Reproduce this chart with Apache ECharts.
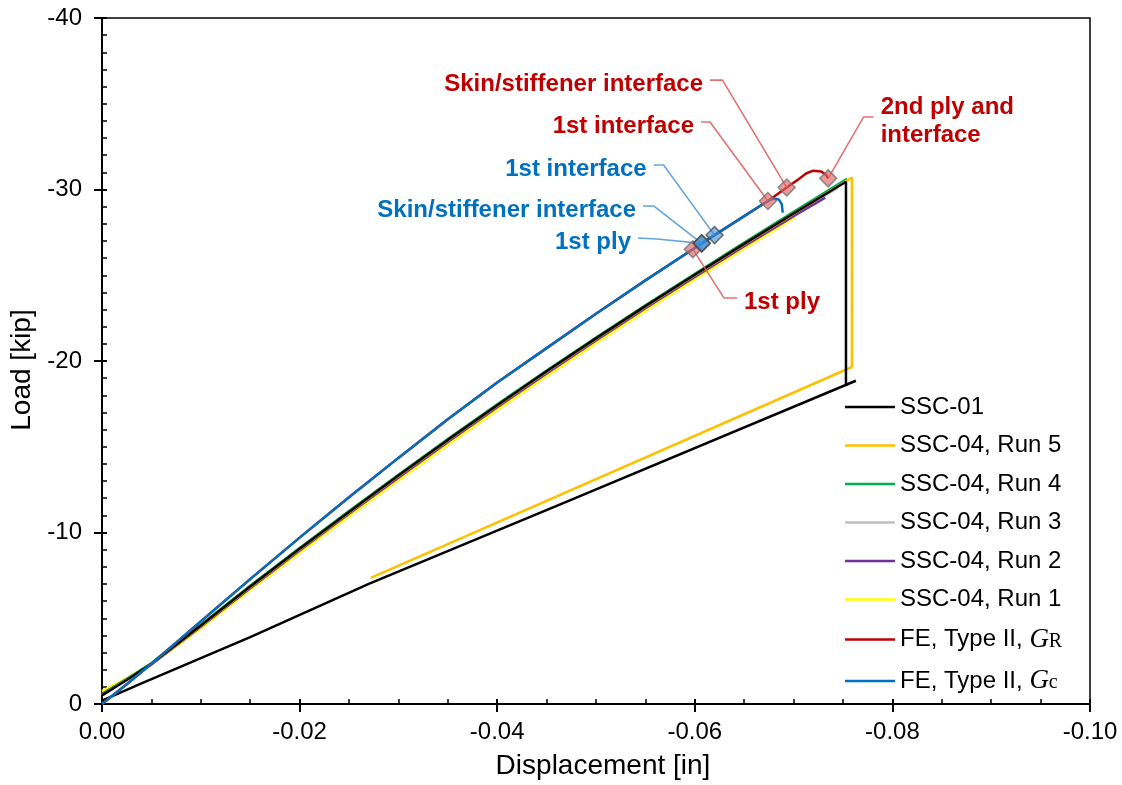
<!DOCTYPE html>
<html><head><meta charset="utf-8">
<script src="https://cdn.jsdelivr.net/npm/echarts@6.0.0/dist/echarts.min.js"></script>
<style>html,body{margin:0;padding:0;background:#fff}#c{width:1122px;height:785px}</style>
</head><body><div id="c"></div>
<script>
// ---------------- data ----------------
const xTicks = [0, -0.02, -0.04, -0.06, -0.08, -0.10];
const yTicks = [0, -10, -20, -30, -40];

const ssc01X = [0, -0.0025, -0.005, -0.0075, -0.01, -0.015, -0.02, -0.025, -0.03, -0.035, -0.04, -0.045, -0.05, -0.055, -0.06, -0.065, -0.07, -0.0753,
                -0.0753, -0.0763, -0.0462, -0.027, -0.015, -0.004, 0];
const ssc01Y = [-0.5, -1.4, -2.35, -3.45, -4.58, -6.85, -9.05, -11.2, -13.32, -15.4, -17.42, -19.4, -21.32, -23.2, -25.03, -26.83, -28.6, -30.45,
                -18.6, -18.85, -11.6, -7.0, -3.9, -1.2, -0.2];

const run5X = [0, -0.005, -0.01, -0.015, -0.02, -0.025, -0.03, -0.035, -0.04, -0.045, -0.05, -0.055, -0.06, -0.065, -0.07, -0.0759, -0.0759, -0.0272];
const run5Y = [-0.5, -2.32, -4.55, -6.82, -9.02, -11.17, -13.29, -15.37, -17.39, -19.37, -21.29, -23.17, -25.0, -26.8, -28.58, -30.7, -19.65, -7.35];

const run4X = [0, -0.005, -0.01, -0.015, -0.02, -0.025, -0.03, -0.035, -0.04, -0.045, -0.05, -0.055, -0.06, -0.065, -0.07, -0.0754];
const run4Y = [-0.55, -2.38, -4.62, -6.9, -9.1, -11.25, -13.37, -15.45, -17.47, -19.45, -21.37, -23.25, -25.08, -26.9, -28.7, -30.62];

const run3X = [0, -0.005, -0.01, -0.015, -0.02, -0.025, -0.03, -0.035, -0.04, -0.045, -0.05, -0.055, -0.06, -0.065, -0.07, -0.0745];
const run3Y = [-0.6, -2.3, -4.52, -6.8, -9.0, -11.15, -13.27, -15.35, -17.37, -19.35, -21.27, -23.15, -24.98, -26.78, -28.55, -30.1];

const run2X = [0, -0.005, -0.01, -0.015, -0.02, -0.025, -0.03, -0.035, -0.04, -0.045, -0.05, -0.055, -0.06, -0.065, -0.07, -0.0732];
const run2Y = [-0.6, -2.3, -4.5, -6.75, -8.95, -11.1, -13.2, -15.28, -17.3, -19.28, -21.2, -23.08, -24.9, -26.7, -28.45, -29.52];

const run1X = [0, -0.0025, -0.005, -0.0075, -0.01, -0.015, -0.02, -0.025, -0.03, -0.035, -0.04, -0.045, -0.05, -0.055, -0.06, -0.065, -0.0701];
const run1Y = [-0.75, -1.5, -2.35, -3.35, -4.42, -6.65, -8.82, -10.95, -13.05, -15.12, -17.15, -19.12, -21.05, -22.93, -24.77, -26.57, -28.37];

const feGrX = [0, -0.0025, -0.005, -0.0075, -0.01, -0.015, -0.02, -0.025, -0.03, -0.035, -0.04, -0.045, -0.05, -0.055, -0.0598, -0.0607, -0.062, -0.065, -0.0674,
               -0.0693, -0.0705, -0.0713, -0.072, -0.0728, -0.0733, -0.0735];
const feGrY = [0, -1.15, -2.35, -3.58, -4.82, -7.28, -9.7, -12.05, -14.35, -16.6, -18.75, -20.75, -22.75, -24.7, -26.52, -26.86, -27.34, -28.45, -29.33,
               -30.12, -30.6, -30.95, -31.1, -31.05, -30.85, -30.65];

const feGcX = [0, -0.0025, -0.005, -0.0075, -0.01, -0.015, -0.02, -0.025, -0.03, -0.035, -0.04, -0.045, -0.05, -0.055, -0.0598, -0.0607, -0.062, -0.065, -0.0674,
               -0.068, -0.0685, -0.0688, -0.0689];
const feGcY = [0, -1.15, -2.35, -3.58, -4.82, -7.28, -9.7, -12.05, -14.35, -16.6, -18.75, -20.75, -22.75, -24.7, -26.52, -26.86, -27.34, -28.45, -29.33,
               -29.48, -29.42, -29.15, -28.65];

const redEventX = [-0.0598, -0.0674, -0.0693, -0.0735];
const redEventY = [-26.52, -29.33, -30.12, -30.65];
const redEventText = ['1st ply', '1st interface', 'Skin/stiffener interface', '2nd ply and\ninterface'];

const blueEventX = [-0.0607, -0.0607, -0.0620];
const blueEventY = [-26.86, -26.86, -27.34];
const blueEventText = ['1st ply', 'Skin/stiffener interface', '1st interface'];

// callout layout (label anchor and elbow, in axis units)
const redCallouts = [
  {anchor: [-0.06427, -23.67], elbow: [-0.06296, -23.67], side: 'right'},
  {anchor: [-0.06063, -33.94], elbow: [-0.06154, -33.94], side: 'left'},
  {anchor: [-0.06154, -36.38], elbow: [-0.0628, -36.38], side: 'left'},
  {anchor: [-0.0781, -34.23], elbow: [-0.07709, -34.23], side: 'right'}
];
const blueCallouts = [
  {anchor: [-0.05425, -27.17], elbow: [-0.05617, -27.11], side: 'left'},
  {anchor: [-0.05476, -29.04], elbow: [-0.05583, -29.04], side: 'left'},
  {anchor: [-0.05583, -31.43], elbow: [-0.05684, -31.43], side: 'left'}
];

// ---------------- build ----------------
const zip = (xs, ys) => xs.map((x, i) => [x, ys[i]]);
const FONT = 'Liberation Sans, Arial, sans-serif';

function curve(name, xs, ys, color, z) {
  return {
    name, type: 'line', data: zip(xs, ys), symbol: 'none', showSymbol: false,
    lineStyle: {color, width: 2.5}, itemStyle: {color}, z: z, silent: true, animation: false
  };
}

const seriesList = [
  curve('SSC-04, Run 3', run3X, run3Y, '#BFBFBF', 2),
  curve('SSC-04, Run 1', run1X, run1Y, '#FFFF00', 3),
  curve('SSC-04, Run 2', run2X, run2Y, '#7030A0', 4),
  curve('SSC-04, Run 4', run4X, run4Y, '#00B050', 5),
  curve('SSC-04, Run 5', run5X, run5Y, '#FFC000', 6),
  curve('SSC-01', ssc01X, ssc01Y, '#000000', 7),
  curve('FE, Type II, G_R', feGrX, feGrY, '#C00000', 8),
  curve('FE, Type II, G_c', feGcX, feGcY, '#0070C0', 9)
];

function addCallouts(xs, ys, texts, layout, textColor, leaderColor, fill, border) {
  xs.forEach((x, i) => {
    const L = layout[i];
    seriesList.push({
      type: 'line', data: [L.anchor, L.elbow, [x, ys[i]]], symbol: 'none', silent: true,
      lineStyle: {color: leaderColor, width: 1.6}, z: 10, animation: false
    });
    seriesList.push({
      type: 'scatter', data: [L.anchor], symbolSize: 0, silent: true, z: 12, animation: false,
      itemStyle: {opacity: 1},
      label: {show: true, position: L.side, distance: 7, offset: [0, 4], formatter: texts[i], color: textColor,
              fontFamily: FONT, fontWeight: 'bold', fontSize: 24, lineHeight: 28,
              align: L.side === 'left' ? 'right' : 'left'}
    });
  });
  seriesList.push({
    type: 'scatter', data: zip(xs, ys), symbol: 'rect', symbolRotate: 45, symbolSize: 12, silent: true, z: 11,
    itemStyle: {color: fill, borderColor: border, borderWidth: 1.5, opacity: 1}, animation: false
  });
}
addCallouts(redEventX, redEventY, redEventText, redCallouts, '#C00000', 'rgba(220,90,90,0.85)',
            'rgba(225,100,100,0.65)', 'rgba(110,110,110,0.75)');
addCallouts(blueEventX, blueEventY, blueEventText, blueCallouts, '#0070C0', 'rgba(70,150,215,0.85)',
            'rgba(60,140,215,0.6)', 'rgba(70,70,70,0.75)');

const axisCommonX = {type: 'value', min: -0.1, max: 0, interval: 0.02, inverse: true};
const axisCommonY = {type: 'value', min: -40, max: 0, interval: 10, inverse: true};

const option = {
  animation: false,
  backgroundColor: '#fff',
  grid: {left: 102, right: 32, top: 18, bottom: 81, show: true, borderColor: '#000', borderWidth: 1.5, backgroundColor: 'transparent'},
  legend: {
    left: 845, top: 395, orient: 'vertical', padding: 0, itemGap: 14.5, itemWidth: 50, itemHeight: 2.5, icon: 'rect',
    data: ['SSC-01', 'SSC-04, Run 5', 'SSC-04, Run 4', 'SSC-04, Run 3', 'SSC-04, Run 2', 'SSC-04, Run 1', 'FE, Type II, G_R', 'FE, Type II, G_c'],
    formatter: name => name.replace('G_R', '{it|G}{sub|R}').replace('G_c', '{it|G}{sub|c}'),
    textStyle: {fontFamily: FONT, fontSize: 24, color: '#000', lineHeight: 24,
      rich: {it: {fontFamily: 'Liberation Serif, serif', fontStyle: 'italic', fontSize: 27, lineHeight: 24, color: '#000'},
             sub: {fontFamily: 'Liberation Serif, serif', fontSize: 20, lineHeight: 8, verticalAlign: 'bottom', color: '#000'}}},
    selectedMode: false
  },
  xAxis: [
    Object.assign({}, axisCommonX, {
      position: 'bottom', name: 'Displacement [in]', nameLocation: 'middle', nameGap: 48,
      nameTextStyle: {fontFamily: FONT, fontSize: 28, color: '#000', padding: [0, 0, 0, 14]},
      axisLine: {onZero: false, lineStyle: {color: '#000', width: 2}},
      axisTick: {show: true, inside: false, length: 8, lineStyle: {color: '#000', width: 2}},
      axisLabel: {fontFamily: FONT, fontSize: 24, color: '#000', margin: 16, formatter: v => v.toFixed(2)},
      splitLine: {show: false}
    }),
    Object.assign({}, axisCommonX, {
      position: 'bottom', axisLine: {show: false}, axisLabel: {show: false},
      axisTick: {show: true, inside: true, length: 5, lineStyle: {color: '#000', width: 2}},
      minorTick: {show: true, splitNumber: 4, length: 5, lineStyle: {color: '#000', width: 1.5}},
      splitLine: {show: false}
    })
  ],
  yAxis: [
    Object.assign({}, axisCommonY, {
      position: 'left', name: 'Load [kip]', nameLocation: 'middle', nameGap: 59,
      nameTextStyle: {fontFamily: FONT, fontSize: 28, color: '#000', padding: [0, 18, 0, 0]},
      axisLine: {onZero: false, lineStyle: {color: '#000', width: 2}},
      axisTick: {show: true, inside: false, length: 8, lineStyle: {color: '#000', width: 2}},
      axisLabel: {fontFamily: FONT, fontSize: 24, color: '#000', margin: 20, formatter: v => String(v)},
      splitLine: {show: false}
    }),
    Object.assign({}, axisCommonY, {
      position: 'left', axisLine: {show: false}, axisLabel: {show: false},
      axisTick: {show: true, inside: true, length: 5, lineStyle: {color: '#000', width: 2}},
      minorTick: {show: true, splitNumber: 10, length: 5, lineStyle: {color: '#000', width: 1.5}},
      splitLine: {show: false}
    })
  ],
  series: seriesList
};

const chart = echarts.init(document.getElementById('c'), null, {renderer: 'canvas'});
chart.setOption(option);
</script>
</body></html>
